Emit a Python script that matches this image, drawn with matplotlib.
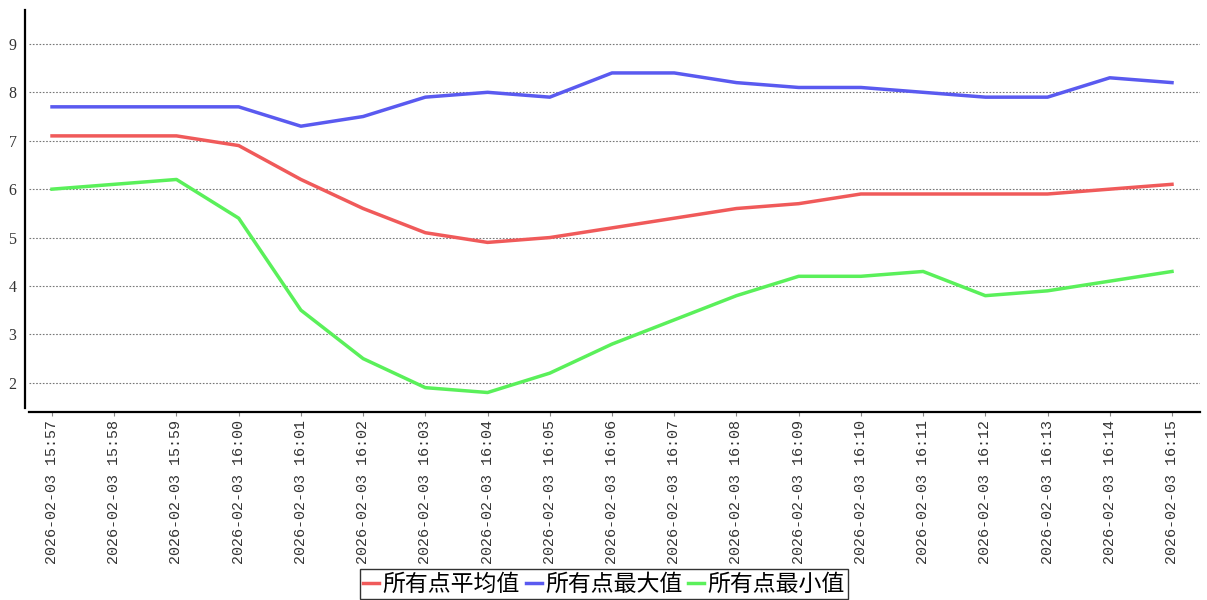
import matplotlib
matplotlib.use("Agg")
import matplotlib.pyplot as plt

# data
times = ["15:57", "15:58", "15:59", "16:00", "16:01", "16:02", "16:03", "16:04", "16:05", "16:06",
         "16:07", "16:08", "16:09", "16:10", "16:11", "16:12", "16:13", "16:14", "16:15"]
x_labels = ["2026-02-03 " + t for t in times]

avg_vals = [7.1, 7.1, 7.1, 6.9, 6.2, 5.6, 5.1, 4.9, 5.0, 5.2, 5.4, 5.6, 5.7, 5.9, 5.9, 5.9, 5.9, 6.0, 6.1]
max_vals = [7.7, 7.7, 7.7, 7.7, 7.3, 7.5, 7.9, 8.0, 7.9, 8.4, 8.4, 8.2, 8.1, 8.1, 8.0, 7.9, 7.9, 8.3, 8.2]
min_vals = [6.0, 6.1, 6.2, 5.4, 3.5, 2.5, 1.9, 1.8, 2.2, 2.8, 3.3, 3.8, 4.2, 4.2, 4.3, 3.8, 3.9, 4.1, 4.3]

series_names = ["所有点平均值", "所有点最大值", "所有点最小值"]
colors = ["#f05a5a", "#5a5af0", "#5af05a"]

W, H = 1207, 600
fig = plt.figure(figsize=(W / 100, H / 100), dpi=100)
ax = fig.add_axes([29 / W, 1 - 408 / H, (1200 - 29) / W, (408 - 10) / H])

xs = list(range(len(x_labels)))
for vals, name, c in zip([avg_vals, max_vals, min_vals], series_names, colors):
    ax.plot(xs, vals, color=c, linewidth=2.5, label=name, solid_joinstyle="round")

ax.set_xlim(-0.37, len(xs) - 1 + 0.45)
ax.set_ylim(1.48, 9.70)
ax.set_yticks(range(2, 10))
ax.grid(axis="y", color="#777777", linestyle=(0, (1.5, 1.5)), linewidth=0.8)
ax.set_axisbelow(True)

for s in ["top", "right"]:
    ax.spines[s].set_visible(False)
ax.spines["left"].set_position(("outward", 3))
ax.spines["bottom"].set_position(("outward", 3))
ax.spines["left"].set_linewidth(1.6)
ax.spines["bottom"].set_linewidth(1.6)

ax.set_xticks(xs)
ax.set_xticklabels(x_labels, rotation=90, fontsize=10.8, family=["Liberation Mono", "DejaVu Sans Mono"],
                   color="#333333")
ax.tick_params(axis="x", length=3, width=0.8, color="#888888", pad=3)
ax.tick_params(axis="y", length=0, pad=6, labelsize=11.5)
for lab in ax.get_yticklabels():
    lab.set_family(["Liberation Serif", "DejaVu Serif"])
    lab.set_color("#333333")

leg = fig.legend(loc="lower center", bbox_to_anchor=(604 / W, 1 / H), ncol=3,
                 prop={"family": ["Noto Sans CJK SC", "DejaVu Sans"], "size": 16.5},
                 handlelength=0.7, handletextpad=0.15, columnspacing=0.25,
                 borderpad=0.15, borderaxespad=0.0, fancybox=False, frameon=True)
leg.get_frame().set_edgecolor("black")
leg.get_frame().set_linewidth(1.0)

fig.savefig("out.png", dpi=100)
